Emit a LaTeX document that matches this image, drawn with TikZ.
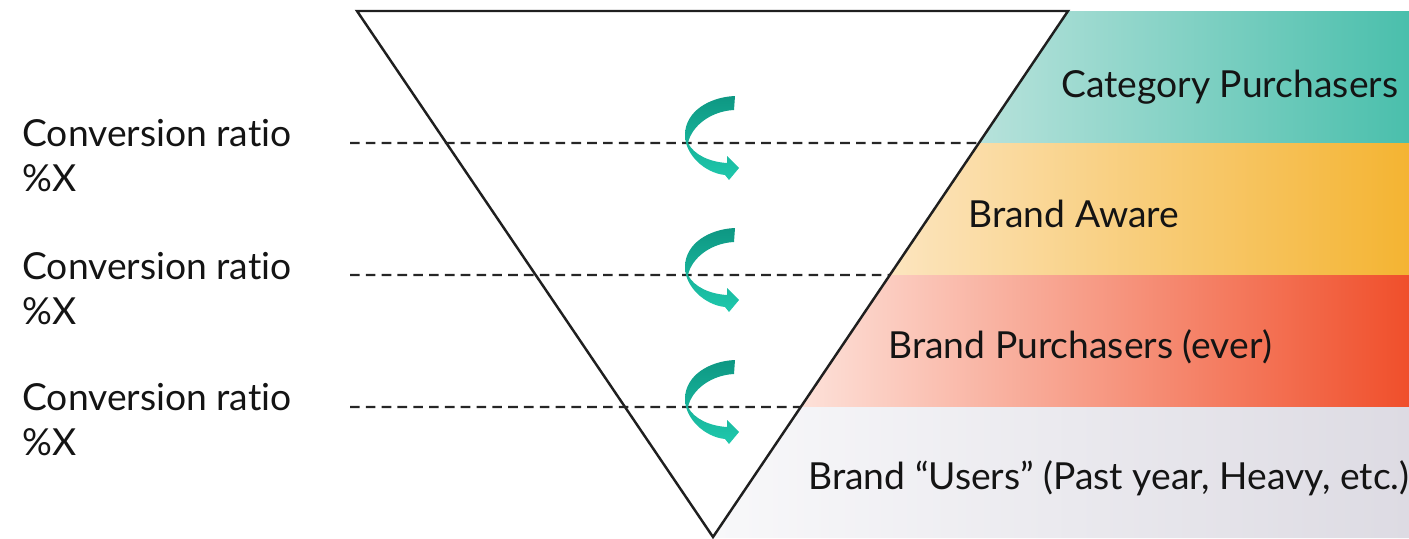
\documentclass[tikz,border=0pt]{standalone}
\usepackage{fontspec}
\setmainfont{Lato}[Ligatures=NoCommon]
\usetikzlibrary{calc}
\definecolor{C1}{HTML}{B7E2DB}
\definecolor{C2}{HTML}{4ABFAC}
\definecolor{A1}{HTML}{FCE5BF}
\definecolor{A2}{HTML}{F4B432}
\definecolor{P1}{HTML}{FDE1D9}
\definecolor{P2}{HTML}{F04F2B}
\definecolor{U1}{HTML}{F8F8FA}
\definecolor{U2}{HTML}{DDDBE3}
\definecolor{K1}{HTML}{0E9783}
\definecolor{K2}{HTML}{1FC9AD}

\begin{document}
\begin{tikzpicture}[
	x=0.02cm, y=-0.02cm,
	edge/.style = {draw=black!88, line width=1.4pt, line join=miter},
	guide/.style = {draw=black!85, line width=1.3pt, dash pattern=on 5.5pt off 3.5pt},
	stage/.style = {anchor=west, inner sep=0pt, font=\fontsize{21.2}{25}\selectfont, text=black!92},
	ratio/.style = {anchor=west, inner sep=0pt, align=left, font=\fontsize{21.2}{25.6}\selectfont, text=black!92},
	curl/.pic = {
		\shade[top color=K1, bottom color=K2]
			(35,-47) .. controls (10,-46) and (-15,-32) .. (-15,-8)
			.. controls (-15,12) and (5,30) .. (25,32)
			-- (29,37) -- (39,25) -- (27,13) -- (27,20)
			.. controls (10,19) and (-6,12) .. (-12,0)
			.. controls (-8,-18) and (12,-32) .. (34,-33) -- cycle;
	}
]
  \useasboundingbox (0,0) rectangle (1409,538);
  \clip (0,0) rectangle (1409,538);

  % Define funnel corners
  \coordinate (tl) at (357,11);
  \coordinate (tr) at (1068,11);
  \coordinate (apex) at (713,537);
  \coordinate (e1) at ($(tr)!132/526!(apex)$);
  \coordinate (e2) at ($(tr)!264/526!(apex)$);
  \coordinate (e3) at ($(tr)!396/526!(apex)$);
  \coordinate (rb) at (1409,538);

  % Stage bands
  \shade[left color=C1, right color=C2] (tr) -- (1409,11) -- (1409,143) -- (e1) -- cycle;
  \shade[left color=A1, right color=A2] (e1) -- (1409,143) -- (1409,275) -- (e2) -- cycle;
  \shade[left color=P1, right color=P2] (e2) -- (1409,275) -- (1409,407) -- (e3) -- cycle;
  \shade[left color=U1, right color=U2] (e3) -- (1409,407) -- (rb) -- (713,538) -- (apex) -- cycle;

  \node[stage] at (1061,87) (cat) {Category Purchasers};
  \node[stage] at (968,214) (aware) {Brand Aware};
  \node[stage] at (888,347) (ever) {Brand Purchasers (ever)};
  \node[stage] at (808,478) (users) {Brand “Users” (Past year, Heavy, etc.)};

  % Funnel
  \draw[edge] (tl) -- (tr) -- (apex) -- cycle;

  % Conversion levels
  \node[ratio] at (22,156) (r1) {Conversion ratio\\\%X};
  \node[ratio] at (22,289) (r2) {Conversion ratio\\\%X};
  \node[ratio] at (22,420) (r3) {Conversion ratio\\\%X};
  \coordinate (d1) at (350,143);
  \coordinate (d2) at (350,275);
  \coordinate (d3) at (350,407);
  \draw[guide] (d1) -- (e1);
  \draw[guide] (d2) -- (e2);
  \draw[guide] (d3) -- (e3);

  \pic at (700,143) {curl};
  \pic at (700,275) {curl};
  \pic at (700,407) {curl};
\end{tikzpicture}
\end{document}
